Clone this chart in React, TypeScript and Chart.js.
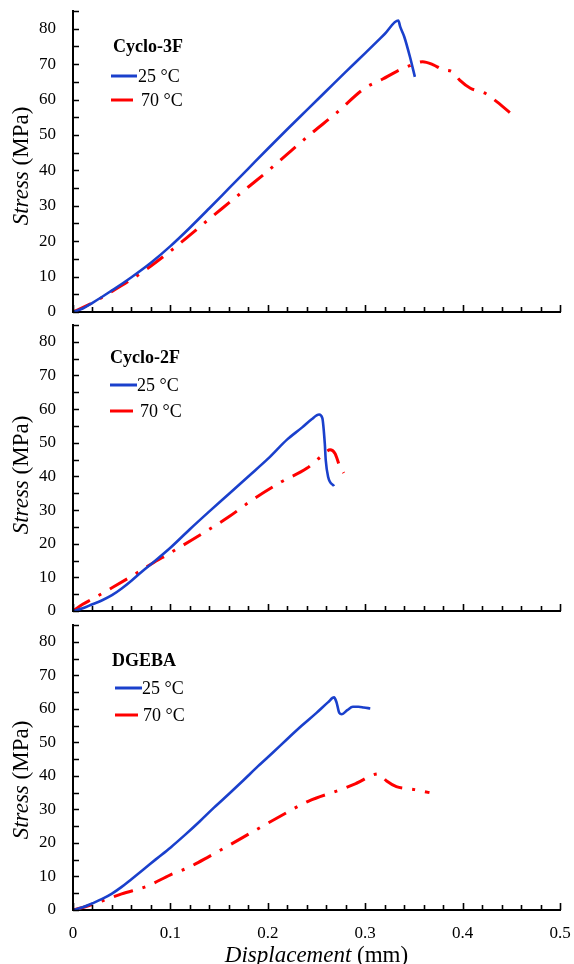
import { useEffect, useRef } from "react";
import { Chart, registerables } from "chart.js";

Chart.register(...registerables);

const FONT = '"Liberation Serif", "Times New Roman", Times, serif';
const BLUE = "#1a40cc";
const RED = "#ff0000";

// ---- axis ticks ----
const X_TICKS = [0, 0.1, 0.2, 0.3, 0.4, 0.5];
const Y_TICKS = [0, 10, 20, 30, 40, 50, 60, 70, 80];
const X_MIN = 0;
const X_MAX = 0.5;
const Y_MIN = 0;
const Y_MAX = 85;
const X_MINOR = [0, 0.02, 0.04, 0.06, 0.08, 0.1, 0.12, 0.14, 0.16, 0.18, 0.2, 0.22, 0.24, 0.26, 0.28, 0.3, 0.32, 0.34, 0.36, 0.38, 0.4, 0.42, 0.44, 0.46, 0.48, 0.5];
const Y_MINOR = [0, 5, 10, 15, 20, 25, 30, 35, 40, 45, 50, 55, 60, 65, 70, 75, 80, 85];

const SERIES_LABELS = ["25 °C", "70 °C"];
const PANEL_NAMES = ["Cyclo-3F", "Cyclo-2F", "DGEBA"];

// ---- Cyclo-3F ----
const C3F_25_X = [0, 0.01, 0.02, 0.03, 0.04, 0.05, 0.06, 0.08, 0.1, 0.12, 0.14, 0.16, 0.18, 0.2, 0.22, 0.24, 0.26, 0.28, 0.3, 0.32, 0.334, 0.336, 0.34, 0.346, 0.351];
const C3F_25_Y = [0, 1.0, 2.6, 4.3, 6.1, 7.9, 9.8, 13.9, 18.6, 23.8, 29.3, 34.9, 40.5, 46.1, 51.6, 57.0, 62.4, 67.8, 73.1, 78.5, 82.3, 80.5, 77.8, 72.0, 66.4];
const C3F_70_X = [0, 0.02, 0.04, 0.06, 0.08, 0.1, 0.12, 0.14, 0.16, 0.18, 0.2, 0.22, 0.245, 0.27, 0.3, 0.318, 0.332, 0.348, 0.359, 0.37, 0.38, 0.389, 0.397, 0.408, 0.423, 0.435, 0.454];
const C3F_70_Y = [0, 2.6, 5.8, 9.2, 13.0, 17.2, 21.7, 26.3, 30.8, 35.3, 39.8, 44.6, 50.5, 56.1, 63.3, 65.8, 67.9, 69.8, 70.7, 69.8, 68.4, 67.9, 65.5, 63.2, 61.8, 59.4, 55.0];

// ---- Cyclo-2F ----
const C2F_25_X = [0, 0.01, 0.02, 0.03, 0.04, 0.05, 0.06, 0.07, 0.08, 0.1, 0.12, 0.14, 0.16, 0.18, 0.2, 0.22, 0.235, 0.245, 0.2527, 0.256, 0.2585, 0.2595, 0.2619, 0.268];
const C2F_25_Y = [0, 0.8, 2.0, 3.2, 4.7, 6.7, 9.0, 11.5, 13.9, 18.8, 24.3, 29.6, 34.8, 40.0, 45.2, 51.0, 54.5, 57.0, 58.4, 57.3, 49.8, 44.8, 39.9, 37.1];
const C2F_70_X = [0, 0.01, 0.02, 0.04, 0.06, 0.08, 0.1, 0.13, 0.16, 0.185, 0.214, 0.24, 0.255, 0.264, 0.269, 0.274, 0.278];
const C2F_70_Y = [0, 2.0, 3.6, 6.9, 10.3, 13.9, 17.3, 22.5, 28.0, 33.2, 38.4, 42.4, 46.0, 47.9, 46.8, 42.9, 41.0];

// ---- DGEBA ----
const DG_25_X = [0, 0.01, 0.02, 0.03, 0.04, 0.05, 0.06, 0.072, 0.085, 0.1, 0.115, 0.13, 0.145, 0.16, 0.175, 0.19, 0.205, 0.22, 0.235, 0.25, 0.262, 0.268, 0.2705, 0.2734, 0.276, 0.2816, 0.2873, 0.293, 0.2985, 0.3052];
const DG_25_Y = [0, 0.8, 2.0, 3.3, 4.9, 6.9, 9.2, 12.0, 15.1, 18.6, 22.4, 26.4, 30.6, 34.6, 38.7, 42.9, 46.9, 51.0, 55.0, 58.8, 62.0, 63.4, 62.0, 58.8, 58.4, 59.6, 60.6, 60.6, 60.4, 60.1];
const DG_70_X = [0, 0.015, 0.033, 0.05, 0.077, 0.1, 0.118, 0.14, 0.159, 0.188, 0.21, 0.242, 0.274, 0.291, 0.3135, 0.322, 0.332, 0.343, 0.351, 0.366];
const DG_70_Y = [0, 1.2, 3.0, 4.8, 7.2, 10.5, 12.6, 16.0, 19.1, 23.9, 27.5, 32.5, 35.8, 37.8, 40.6, 38.5, 36.8, 36.2, 35.9, 35.0];

function pts(xs: number[], ys: number[]) {
  return xs.map((x, i) => ({ x, y: ys[i] }));
}

const PANELS = [
  {
    name: PANEL_NAMES[0],
    s25: pts(C3F_25_X, C3F_25_Y),
    s70: pts(C3F_70_X, C3F_70_Y),
    top: 0, height: 316, padTop: 11, padBottom: 4, xLabels: false,
    legend: { tx: 113, ty: 47, rows: [{ y: 76, x0: 111, x1: 137, tx: 138 }, { y: 100, x0: 111, x1: 133, tx: 141 }] },
    yTitleY: 166,
  },
  {
    name: PANEL_NAMES[1],
    s25: pts(C2F_25_X, C2F_25_Y),
    s70: pts(C2F_70_X, C2F_70_Y),
    top: 316, height: 299, padTop: 9, padBottom: 4, xLabels: false,
    legend: { tx: 110, ty: 42, rows: [{ y: 69, x0: 110, x1: 137, tx: 137 }, { y: 95, x0: 110, x1: 133, tx: 140 }] },
    yTitleY: 159,
  },
  {
    name: PANEL_NAMES[2],
    s25: pts(DG_25_X, DG_25_Y),
    s70: pts(DG_70_X, DG_70_Y),
    top: 615, height: 349, padTop: 10, padBottom: 0, xLabels: true,
    legend: { tx: 112, ty: 46, rows: [{ y: 73, x0: 115, x1: 142, tx: 142 }, { y: 100, x0: 115, x1: 138, tx: 143 }] },
    yTitleY: 165,
  },
];

const decorPlugin = {
  id: "panelDecor",
  afterDraw(chart: any, _args: any, opts: any) {
    const { ctx, chartArea, scales } = chart;
    const xs = scales.x;
    const ys = scales.y;
    ctx.save();
    // inward ticks
    ctx.strokeStyle = "#000";
    ctx.lineWidth = 1.6;
    ctx.beginPath();
    Y_MINOR.forEach((v) => {
      const py = Math.round(ys.getPixelForValue(v)) + 0.5;
      ctx.moveTo(chartArea.left, py);
      ctx.lineTo(chartArea.left + 6, py);
    });
    X_MINOR.forEach((v, i) => {
      const px = Math.round(xs.getPixelForValue(v)) + 0.5;
      const len = i % 5 === 0 ? 7 : 5;
      ctx.moveTo(px, chartArea.bottom);
      ctx.lineTo(px, chartArea.bottom - len);
    });
    ctx.stroke();

    // legend
    const lg = opts.legend;
    ctx.fillStyle = "#000";
    ctx.textAlign = "left";
    ctx.textBaseline = "middle";
    ctx.font = `bold 18px ${FONT}`;
    ctx.fillText(opts.name, lg.tx, lg.ty);
    ctx.font = `18px ${FONT}`;
    chart.data.datasets.forEach((ds: any, i: number) => {
      const r = lg.rows[i];
      ctx.strokeStyle = ds.borderColor;
      ctx.lineWidth = 3;
      ctx.setLineDash([]);
      ctx.beginPath();
      ctx.moveTo(r.x0, r.y);
      ctx.lineTo(r.x1, r.y);
      ctx.stroke();
      ctx.fillStyle = "#000";
      ctx.fillText(ds.label, r.tx, r.y + 1);
    });

    // y title
    ctx.save();
    ctx.translate(21.5, opts.yTitleY);
    ctx.rotate(-Math.PI / 2);
    ctx.font = `italic 23px ${FONT}`;
    const w1 = ctx.measureText("Stress").width;
    ctx.font = `23px ${FONT}`;
    const w2 = ctx.measureText(" (MPa)").width;
    const sx = -(w1 + w2) / 2;
    ctx.textBaseline = "middle";
    ctx.font = `italic 23px ${FONT}`;
    ctx.fillText("Stress", sx, 0);
    ctx.font = `23px ${FONT}`;
    ctx.fillText(" (MPa)", sx + w1, 0);
    ctx.restore();

    // x title
    if (opts.xLabels) {
      ctx.font = `italic 23px ${FONT}`;
      const a = ctx.measureText("Displacement").width;
      ctx.font = `23px ${FONT}`;
      const b = ctx.measureText(" (mm)").width;
      const cx = (chartArea.left + chartArea.right) / 2;
      const bx = cx - (a + b) / 2;
      ctx.textBaseline = "alphabetic";
      ctx.font = `italic 23px ${FONT}`;
      ctx.fillText("Displacement", bx, chart.height - 2);
      ctx.font = `23px ${FONT}`;
      ctx.fillText(" (mm)", bx + a, chart.height - 2);
    }
    ctx.restore();
  },
};

function Panel({ p }: { p: (typeof PANELS)[number] }) {
  const ref = useRef<HTMLCanvasElement | null>(null);
  useEffect(() => {
    if (!ref.current) return;
    const chart = new Chart(ref.current, {
      type: "line",
      data: {
        datasets: [
          {
            label: SERIES_LABELS[0],
            data: p.s25,
            borderColor: BLUE,
            borderWidth: 2.6,
            pointRadius: 0,
            cubicInterpolationMode: "monotone",
            fill: false,
          },
          {
            label: SERIES_LABELS[1],
            data: p.s70,
            borderColor: RED,
            borderWidth: 3,
            borderDash: [20, 10, 3, 10],
            pointRadius: 0,
            cubicInterpolationMode: "monotone",
            fill: false,
          },
        ],
      },
      options: {
        responsive: false,
        animation: false,
        devicePixelRatio: 1,
        layout: { autoPadding: false, padding: { top: p.padTop, bottom: p.padBottom, left: 0, right: 14 } },
        plugins: {
          legend: { display: false },
          tooltip: { enabled: false },
          panelDecor: { legend: p.legend, name: p.name, yTitleY: p.yTitleY, xLabels: p.xLabels },
        } as any,
        scales: {
          x: {
            type: "linear",
            min: X_MIN,
            max: X_MAX,
            grid: { display: false, drawTicks: false },
            border: { display: true, color: "#000", width: 2 },
            ticks: {
              display: p.xLabels,
              padding: 13,
              color: "#000",
              font: { family: FONT, size: 17 },
              maxRotation: 0,
              callback: (v: any) => String(v),
            },
            afterBuildTicks: (s: any) => {
              s.ticks = X_TICKS.map((v) => ({ value: v }));
            },
            afterFit: (s: any) => {
              s.height = p.xLabels ? 54 : 0;
              s.paddingLeft = 0;
              s.paddingRight = 0;
              s.paddingTop = 0;
              s.paddingBottom = 0;
            },
          },
          y: {
            type: "linear",
            min: Y_MIN,
            max: Y_MAX,
            grid: { display: false, drawTicks: false },
            border: { display: true, color: "#000", width: 2 },
            ticks: {
              padding: 17,
              color: "#000",
              font: { family: FONT, size: 17 },
              callback: (v: any) => String(v),
            },
            afterBuildTicks: (s: any) => {
              s.ticks = Y_TICKS.map((v) => ({ value: v }));
            },
            afterFit: (s: any) => {
              s.width = 73;
              s.paddingTop = 0;
              s.paddingBottom = 0;
              s.paddingLeft = 0;
              s.paddingRight = 0;
            },
          },
        },
      },
      plugins: [decorPlugin],
    });
    return () => chart.destroy();
  }, [p]);
  return (
    <canvas
      ref={ref}
      width={574}
      height={p.height}
      style={{ position: "absolute", left: 0, top: p.top, width: 574, height: p.height, display: "block" }}
    />
  );
}

export default function App() {
  return (
    <div style={{ position: "absolute", left: 0, top: 0, width: 574, height: 964, background: "#fff" }}>
      {PANELS.map((p) => (
        <Panel key={p.name} p={p} />
      ))}
    </div>
  );
}
